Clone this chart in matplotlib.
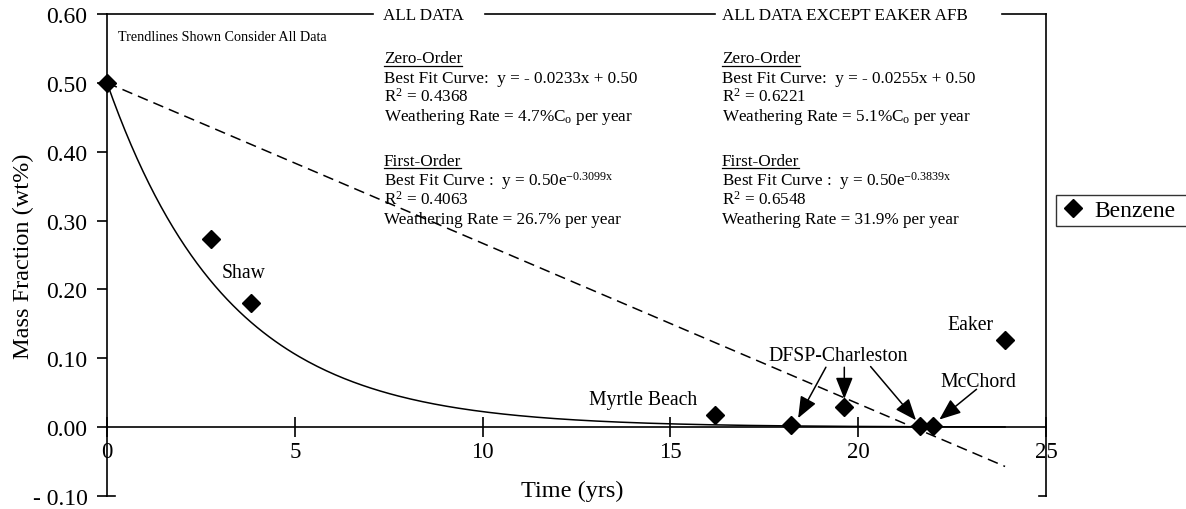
import numpy as np
import matplotlib
matplotlib.use("Agg")
import matplotlib.pyplot as plt

# benzene mass fraction vs. weathering time
time_yrs = [0.0, 2.77, 3.83, 16.19, 18.20, 19.62, 21.65, 21.98, 23.91]
mass_frac = [0.500, 0.273, 0.181, 0.018, 0.003, 0.029, 0.002, 0.002, 0.127]

# trendline coefficients (all data)
c0 = 0.50
k_zero = 0.0233
k_first = 0.3099

y_ticks = [-0.10, 0.00, 0.10, 0.20, 0.30, 0.40, 0.50, 0.60]
y_ticklabels = ["- 0.10", "0.00", "0.10", "0.20", "0.30", "0.40", "0.50", "0.60"]
x_ticks = [0, 5, 10, 15, 20, 25]

# site labels: text, x, y
site_labels = [("Shaw", 3.63, 0.225),
               ("Myrtle Beach", 14.28, 0.040),
               ("DFSP-Charleston", 19.46, 0.104),
               ("McChord", 23.19, 0.066),
               ("Eaker", 22.99, 0.149)]
# arrows: (tail x, tail y, head x, head y)
arrows = [(19.14, 0.087, 18.40, 0.013),
          (19.63, 0.087, 19.63, 0.041),
          (20.33, 0.088, 21.54, 0.010),
          (23.15, 0.055, 22.16, 0.011)]

all_data_txt = ["Zero-Order",
                "Best Fit Curve:  y = - 0.0233x + 0.50",
                r"R$^{2}$ = 0.4368",
                r"Weathering Rate = 4.7%C$_{\rm o}$ per year",
                "First-Order",
                r"Best Fit Curve :  y = 0.50e$^{-\rm 0.3099x}$",
                r"R$^{2}$ = 0.4063",
                "Weathering Rate = 26.7% per year"]
no_eaker_txt = ["Zero-Order",
                "Best Fit Curve:  y = - 0.0255x + 0.50",
                r"R$^{2}$ = 0.6221",
                r"Weathering Rate = 5.1%C$_{\rm o}$ per year",
                "First-Order",
                r"Best Fit Curve :  y = 0.50e$^{-\rm 0.3839x}$",
                r"R$^{2}$ = 0.6548",
                "Weathering Rate = 31.9% per year"]
line_y = [0.5297, 0.5019, 0.4736, 0.4467, 0.3814, 0.3524, 0.3248, 0.2958]

plt.rcParams['font.family'] = ['Liberation Serif', 'DejaVu Serif']
plt.rcParams['mathtext.fontset'] = 'custom'
plt.rcParams['mathtext.rm'] = 'Liberation Serif'
plt.rcParams['mathtext.it'] = 'Liberation Serif:italic'
plt.rcParams['mathtext.bf'] = 'Liberation Serif:bold'

fig = plt.figure(figsize=(11.86, 5.10), dpi=100)
ax = fig.add_axes([107 / 1186, 1 - 497 / 510, 939 / 1186, 482 / 510])
ax.set_xlim(0, 25)
ax.set_ylim(-0.10, 0.60)

lw = 1.2
for s in ['left', 'bottom', 'right']:
    ax.spines[s].set_linewidth(lw)
ax.spines['top'].set_visible(False)
ax.spines['bottom'].set_position(('data', 0))

ax.set_yticks(y_ticks)
ax.set_yticklabels(y_ticklabels)
ax.set_xticks(x_ticks)
ax.tick_params(axis='y', direction='out', length=7, width=lw, labelsize=17, pad=7)
ax.tick_params(axis='x', direction='inout', length=14, width=lw, labelsize=16.5, pad=3)

# extra little ticks at the bottom of both vertical lines
ax.plot([0, 0.0085], [0, 0], transform=ax.transAxes, color='k', lw=lw, clip_on=False)
ax.plot([1 - 0.0075, 1], [0, 0], transform=ax.transAxes, color='k', lw=lw, clip_on=False)

# top border broken by the two headers
for a, b in [(0, 7.08), (10.06, 16.19), (23.83, 25)]:
    ax.plot([a, b], [0.6, 0.6], color='k', lw=lw, clip_on=False)
ax.text(7.35, 0.598, "ALL DATA", fontsize=12.3, va='center', ha='left')
ax.text(16.37, 0.598, "ALL DATA EXCEPT EAKER AFB", fontsize=12.3, va='center', ha='left')
ax.text(0.29, 0.568, "Trendlines Shown Consider All Data", fontsize=10.2, va='center', ha='left')

# trendlines
tx = np.linspace(0, max(time_yrs), 300)
ax.plot(tx, c0 - k_zero * tx, color='k', lw=1.1, ls=(0, (7, 4)))
ax.plot(tx, c0 * np.exp(-k_first * tx), color='k', lw=1.1)

ax.plot(time_yrs, mass_frac, ls='none', marker='D', ms=9, color='k',
        label='Benzene', clip_on=False, zorder=5)

for name, x, y in site_labels:
    ax.text(x, y, name, fontsize=14.2, ha='center', va='center')
for x0, y0, x1, y1 in arrows:
    ax.annotate('', xy=(x1, y1), xytext=(x0, y0),
                arrowprops=dict(arrowstyle='-|>,head_length=0.55,head_width=0.22',
                                color='k', lw=1.1, mutation_scale=24,
                                shrinkA=0, shrinkB=0))

heads = []
for x0, lines in [(7.375, all_data_txt), (16.37, no_eaker_txt)]:
    for i, (t, y) in enumerate(zip(lines, line_y)):
        h = ax.text(x0, y, t, fontsize=12.3, ha='left', va='baseline')
        if i in (0, 4):
            heads.append((h, y))

ax.set_xlabel("Time (yrs)", fontsize=17.5, va='center')
ax.xaxis.set_label_coords(0.495, 0.0124)
ax.set_ylabel("Mass Fraction (wt%)", fontsize=17.5, va='center')
ax.yaxis.set_label_coords(-0.0895, 0.5)

fig.legend(loc='upper left', bbox_to_anchor=(1056 / 1186, 1 - 226 / 510, 160 / 1186, 30 / 510),
           mode='expand', fontsize=17, frameon=True, fancybox=False, edgecolor='#333333',
           framealpha=1, borderpad=0.2, handlelength=1.0, handletextpad=0.42,
           borderaxespad=0)

# underline the section headings
fig.canvas.draw()
r = fig.canvas.get_renderer()
inv = ax.transData.inverted()
for h, y in heads:
    bb = h.get_window_extent(r)
    xa = inv.transform((bb.x0, 0))[0]
    xb = inv.transform((bb.x1, 0))[0]
    ax.plot([xa, xb], [y - 0.0045, y - 0.0045], color='k', lw=0.9)

fig.savefig("out.png", dpi=100)
